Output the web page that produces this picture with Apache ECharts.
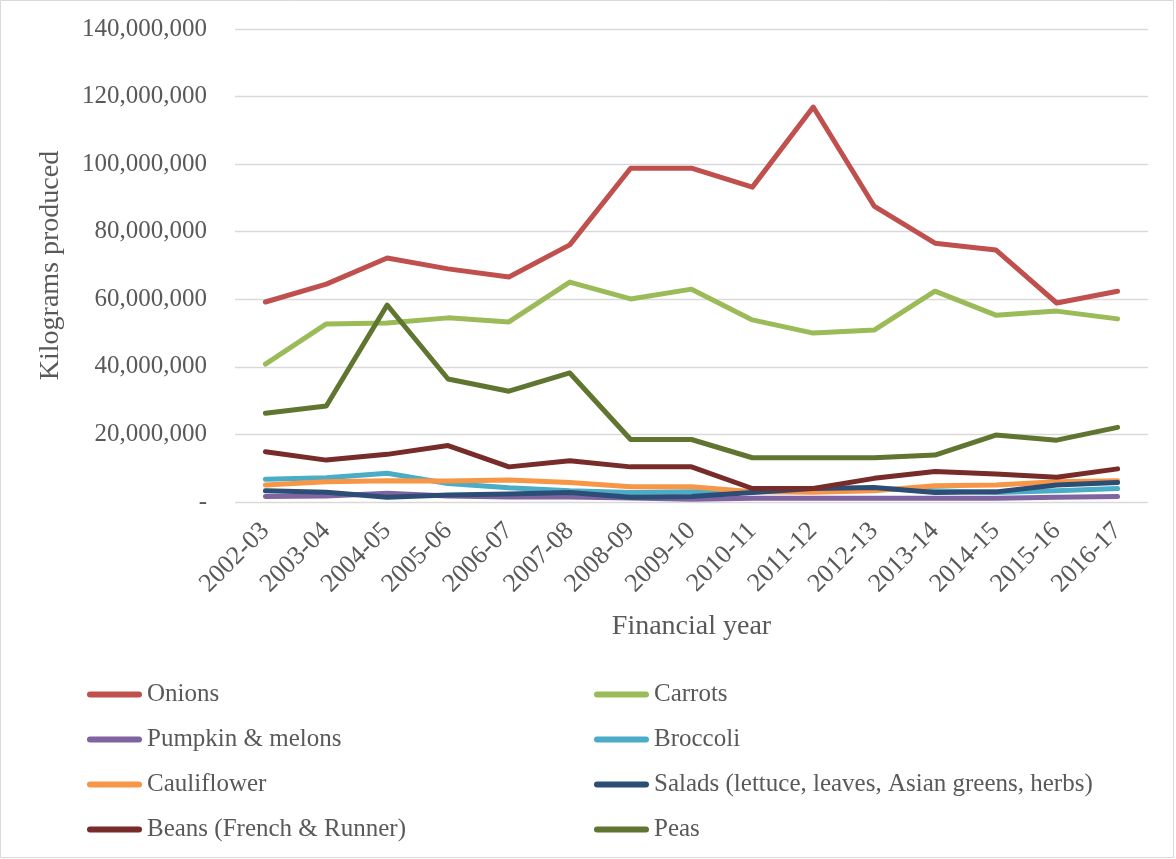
<!DOCTYPE html>
<html>
<head>
<meta charset="utf-8">
<script src="https://cdn.jsdelivr.net/npm/echarts@6/dist/echarts.min.js"></script>
<style>
  html, body { margin: 0; padding: 0; background: #ffffff; }
  #chart { width: 1176px; height: 859px; }
</style>
</head>
<body>
<div id="chart"></div>
<script>
// Vegetable production by financial year (kilograms)
const years = ['2002-03', '2003-04', '2004-05', '2005-06', '2006-07', '2007-08', '2008-09',
  '2009-10', '2010-11', '2011-12', '2012-13', '2013-14', '2014-15', '2015-16', '2016-17'];

const onions      = [59.2, 64.5, 72.2, 69.0, 66.6, 76.1, 98.8, 98.8, 93.2, 116.9, 87.6, 76.6, 74.6, 58.9, 62.4];
const carrots     = [40.8, 52.7, 53.0, 54.5, 53.3, 65.1, 60.1, 63.0, 53.9, 50.0, 50.9, 62.4, 55.3, 56.5, 54.2];
const pumpkin     = [1.6, 1.8, 2.6, 1.8, 1.5, 1.5, 1.2, 0.8, 1.1, 1.1, 1.1, 1.1, 1.1, 1.4, 1.6];
const broccoli    = [6.7, 7.2, 8.5, 5.5, 4.2, 3.3, 2.8, 3.0, 3.0, 3.5, 4.0, 3.3, 2.8, 3.3, 4.0];
const cauliflower = [5.0, 6.0, 6.3, 6.2, 6.5, 5.8, 4.5, 4.5, 3.0, 2.9, 3.3, 4.8, 5.0, 6.0, 6.3];
const salads      = [3.3, 2.9, 1.4, 2.1, 2.4, 2.8, 1.4, 1.6, 2.8, 4.0, 4.3, 2.8, 3.0, 5.0, 5.8];
const beans       = [14.9, 12.4, 14.1, 16.7, 10.4, 12.2, 10.4, 10.4, 4.0, 4.0, 7.0, 9.0, 8.3, 7.3, 9.8];
const peas        = [26.3, 28.4, 58.3, 36.4, 32.8, 38.2, 18.5, 18.5, 13.1, 13.1, 13.1, 13.9, 19.8, 18.3, 22.1];

// values above are in millions of kilograms
const MILLION = 1e6;

const seriesDefs = [
  { name: 'Onions', data: onions, color: '#C0504D' },
  { name: 'Carrots', data: carrots, color: '#9BBB59' },
  { name: 'Pumpkin & melons', data: pumpkin, color: '#8064A2' },
  { name: 'Broccoli', data: broccoli, color: '#4BACC6' },
  { name: 'Cauliflower', data: cauliflower, color: '#F79646' },
  { name: 'Salads (lettuce, leaves, Asian greens, herbs)', data: salads, color: '#2C4D75' },
  { name: 'Beans (French & Runner)', data: beans, color: '#772C2A' },
  { name: 'Peas', data: peas, color: '#5F7530' }
];

const FONT = '"Liberation Serif", "DejaVu Serif", serif';
const TEXT = '#595959';
const capsule = 'path://M3,0 L52,0 A3,3 0 0 1 52,6 L3,6 A3,3 0 0 1 3,0 Z';

const legendBase = {
  orient: 'vertical',
  icon: capsule,
  itemWidth: 55,
  itemHeight: 6,
  itemGap: 20,
  padding: 0,
  selectedMode: false,
  textStyle: { fontFamily: FONT, fontSize: 25, color: TEXT, lineHeight: 24.5 }
};

const chart = echarts.init(document.getElementById('chart'), null, { renderer: 'canvas' });

chart.setOption({
  backgroundColor: '#ffffff',
  animation: false,
  graphic: [{
    type: 'rect',
    shape: { x: 0.5, y: 0.5, width: 1173, height: 857 },
    style: { fill: 'none', stroke: '#D9D9D9', lineWidth: 1 },
    silent: true
  }],
  grid: { left: 235, right: 28, top: 29, height: 473, containLabel: false },
  legend: [
    Object.assign({}, legendBase, {
      left: 87, top: 682,
      data: ['Onions', 'Pumpkin & melons', 'Cauliflower', 'Beans (French & Runner)']
    }),
    Object.assign({}, legendBase, {
      left: 594, top: 682,
      data: ['Carrots', 'Broccoli', 'Salads (lettuce, leaves, Asian greens, herbs)', 'Peas']
    })
  ],
  xAxis: {
    type: 'category',
    data: years,
    boundaryGap: true,
    axisLine: { show: false },
    axisTick: { show: false },
    axisLabel: {
      rotate: 45,
      margin: 25,
      interval: 0,
      fontFamily: FONT,
      fontSize: 26,
      color: TEXT
    },
    name: 'Financial year',
    nameLocation: 'middle',
    nameGap: 111,
    nameTextStyle: { fontFamily: FONT, fontSize: 28, color: TEXT }
  },
  yAxis: {
    type: 'value',
    min: 0,
    max: 140 * MILLION,
    interval: 20 * MILLION,
    axisLine: { show: false },
    axisTick: { show: false },
    splitLine: { lineStyle: { color: '#D9D9D9', width: 1.3 } },
    axisLabel: {
      margin: 28,
      fontFamily: FONT,
      fontSize: 25,
      color: TEXT,
      formatter: v => v === 0 ? '-' : v.toLocaleString('en-US')
    },
    name: 'Kilograms produced',
    nameLocation: 'middle',
    nameRotate: 90,
    nameGap: 170,
    nameTextStyle: { fontFamily: FONT, fontSize: 28, color: TEXT }
  },
  series: seriesDefs.map(s => ({
    name: s.name,
    type: 'line',
    data: s.data.map(v => v * MILLION),
    color: s.color,
    symbol: 'none',
    smooth: false,
    lineStyle: { width: 5, color: s.color, cap: 'round', join: 'round' },
    itemStyle: { color: s.color },
    emphasis: { disabled: true }
  }))
});
</script>
</body>
</html>
